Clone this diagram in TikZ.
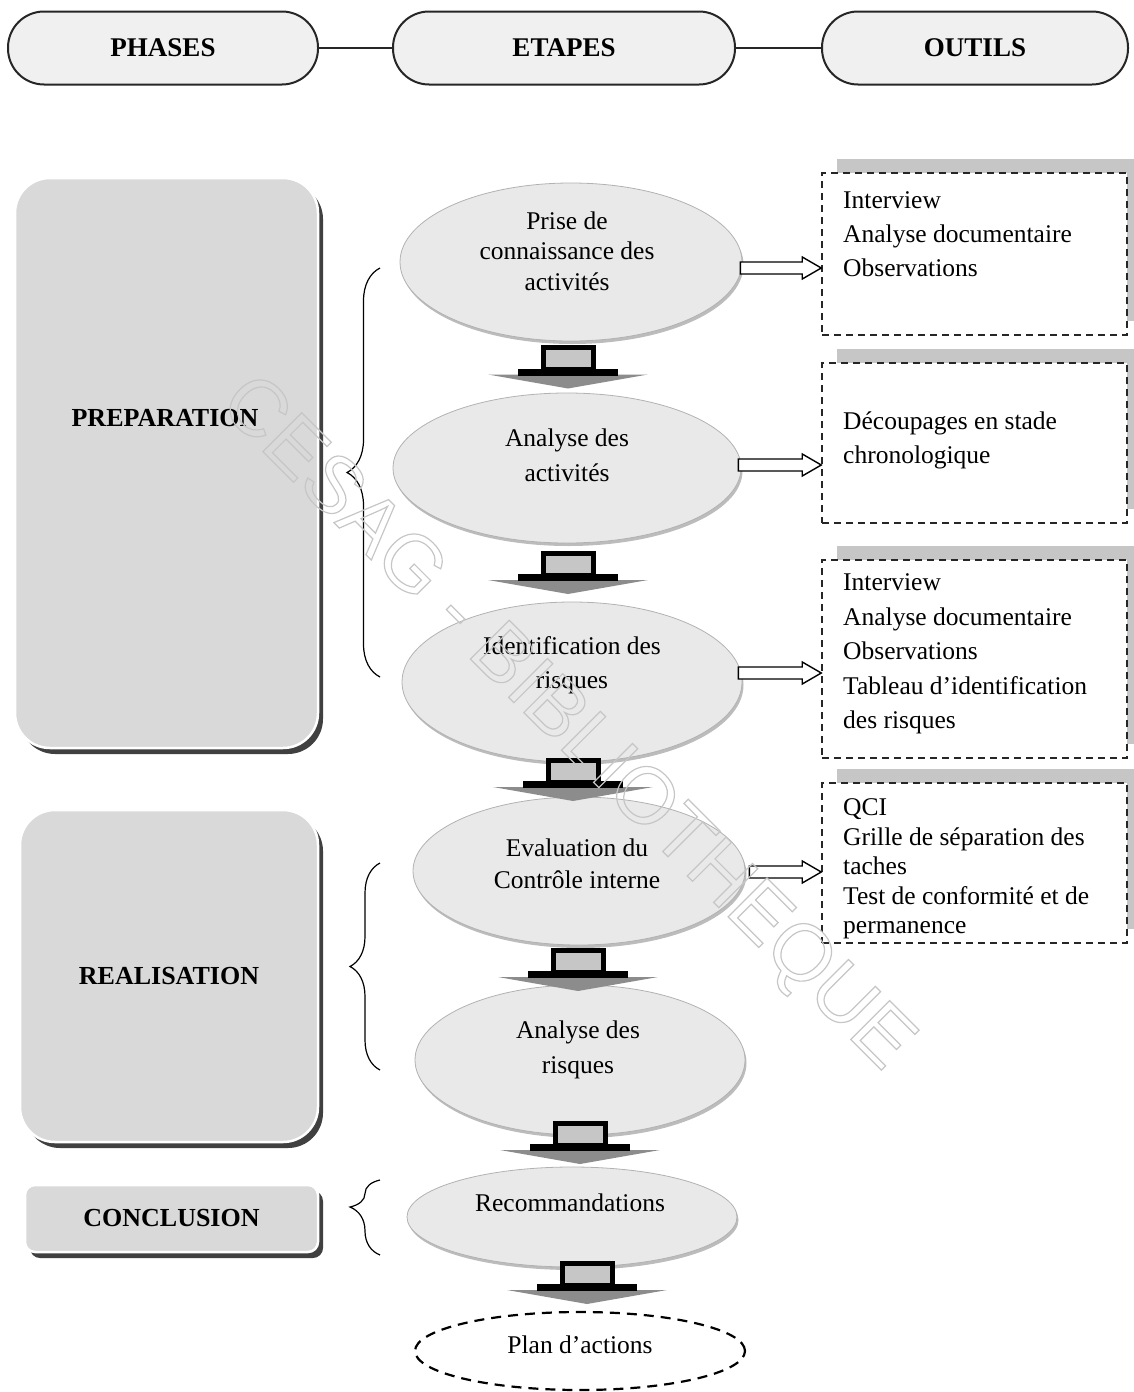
\documentclass[tikz,border=0pt]{standalone}
\usepackage{fontspec}
\setmainfont{Liberation Serif}
\newfontfamily\markfont{Liberation Sans}
\usetikzlibrary{shapes.geometric,shadows,calc,decorations.pathreplacing}

% open block arrow from a point (shifted) to the west side of a tool box
\newcommand\toolarrow[3]{%
  \draw[toolarr] let \p1=($(#1)+(#2)$), \p2=(#3) in
    (\x1,\y1+6pt) -- (\x2-19pt,\y1+6pt) -- (\x2-19pt,\y1+11pt) -- (\x2,\y1)
    -- (\x2-19pt,\y1-11pt) -- (\x2-19pt,\y1-6pt) -- (\x1,\y1-6pt) -- cycle;}

\begin{document}
\begin{tikzpicture}[x=1pt,y=-1pt,
  hdbox/.style={draw=black!85, line width=2pt, fill=gray!12, rounded corners=36pt,
    minimum width=#1, minimum height=73pt, inner sep=0pt,
    font=\fontsize{27}{30}\selectfont\bfseries},
  phasebox/.style={fill=gray!30, draw=white, line width=2.5pt, rounded corners=#1,
    inner sep=0pt, font=\fontsize{26}{30}\selectfont\bfseries,
    drop shadow={shadow xshift=5pt, shadow yshift=-6pt, fill=black!75, opacity=1}},
  phasetxt/.style={inner sep=0pt, font=\fontsize{26}{30}\selectfont\bfseries},
  etape/.style={ellipse, fill=gray!17, draw=gray!60, line width=0.8pt, inner sep=0pt,
    drop shadow={shadow xshift=1.5pt, shadow yshift=-3pt, fill=gray!75, opacity=0.7}},
  etxt/.style={align=center, inner sep=0pt, font=\fontsize{25.5}{33}\selectfont},
  toolbox/.style={draw=black!85, line width=1.5pt, dash pattern=on 7pt off 5pt,
    fill=white, inner sep=0pt, minimum width=305pt,
    general shadow={shadow xshift=15pt, shadow yshift=14pt, fill=gray!45}},
  otxt/.style={align=left, anchor=west, inner sep=0pt,
    font=\fontsize{25.5}{34}\selectfont},
  toolarr/.style={draw=black, line width=1.4pt, fill=white},
  phasebrace/.style={decorate, decoration={brace, amplitude=#1}, line width=1.2pt},
  link/.style={line width=2pt, draw=black!85},
  wmark/.style={rotate=-45, text=gray!45, inner sep=0pt,
    font=\markfont\fontsize{80}{86}\selectfont},
  downblk/.pic={
    \fill[black!45] (-80,8) -- (80,8) -- (0,22) -- cycle;
    \fill[black] (-50,2) rectangle (50,9);
    \draw[black, line width=5pt, fill=gray!45] (-25,-19) rectangle (25,3);
  }
]
\useasboundingbox (0,0) rectangle (1134,1392);

% ---- column headers
\node[hdbox=310pt] (hph) at (163,48) {PHASES};
\node[hdbox=342pt] (het) at (564,48) {ETAPES};
\node[hdbox=306pt] (hou) at (975,48) {OUTILS};
\draw[link] (hph.east) -- (het.west);
\draw[link] (het.east) -- (hou.west);

% ---- phases
\node[phasebox=35pt, minimum width=303pt, minimum height=570pt] (prep) at (166.5,463) {};
\node[phasetxt] (prept) at (165,418) {PREPARATION};
\node[phasebox=35pt, minimum width=298pt, minimum height=332pt] (real) at (169,976) {REALISATION};
\node[phasebox=10pt, minimum width=293pt, minimum height=67pt] (concl) at (171.5,1218.5) {CONCLUSION};

\draw[phasebrace=33pt] (380,677) -- (380,268);
\draw[phasebrace=30pt] (380,1070) -- (380,863);
\draw[phasebrace=30pt, decoration={aspect=0.64}] (380,1255) -- (380,1180);

% ---- steps
\node[etape, minimum width=342pt, minimum height=158pt] (e1) at (571,262) {};
\node[etxt, font=\fontsize{25.5}{30.5}\selectfont] (t1) at (567,251) {Prise de\\connaissance des\\activités};
\node[etape, minimum width=348pt, minimum height=150pt] (e2) at (567,468) {};
\node[etxt, font=\fontsize{25.5}{35}\selectfont] (t2) at (567,455) {Analyse des\\activités};
\node[etape, minimum width=340pt, minimum height=160pt] (e3) at (572,682) {};
\node[etxt, font=\fontsize{25.5}{34}\selectfont] (t3) at (572,665) {Identification des\\risques};
\node[etape, minimum width=332pt, minimum height=148pt] (e4) at (579,871) {};
\node[etxt, font=\fontsize{25.5}{32}\selectfont] (t4) at (577,864) {Evaluation du\\Contrôle interne};
\node[etape, minimum width=330pt, minimum height=150pt] (e5) at (580,1060) {};
\node[etxt, font=\fontsize{25.5}{35}\selectfont] (t5) at (578,1050) {Analyse des\\risques};
\node[etape, minimum width=330pt, minimum height=100pt] (e6) at (572,1217) {};
\node[etxt] (t6) at (570,1203) {Recommandations};
\node[ellipse, draw=black, line width=2.2pt, dash pattern=on 10pt off 7pt,
  minimum width=330pt, minimum height=78pt, inner sep=0pt] (e7) at (580,1351) {};
\node[etxt] (t7) at (580,1345) {Plan d'actions};

% ---- tools
\node[toolbox, minimum height=162pt] (b1) at (974.5,254) {};
\node[otxt] (o1) at (843,234) {Interview\\Analyse documentaire\\Observations};
\node[toolbox, minimum height=160pt] (b2) at (974.5,443) {};
\node[otxt] (o2) at (843,440) {Découpages en stade\\chronologique};
\node[toolbox, minimum height=198pt] (b3) at (974.5,659) {};
\node[otxt, font=\fontsize{25.5}{34.5}\selectfont] (o3) at (843,654) {Interview\\Analyse documentaire\\Observations\\Tableau d'identification\\des risques};
\node[toolbox, minimum height=160pt] (b4) at (974.5,863) {};
\node[otxt, font=\fontsize{25.5}{29.5}\selectfont] (o4) at (843,869) {QCI\\Grille de séparation des\\taches\\Test de conformité et de\\permanence};

\toolarrow{e1.east}{-2,6}{b1.west}
\toolarrow{e2.east}{-3,-3}{b2.west}
\toolarrow{e3.east}{-4,-9}{b3.west}
\toolarrow{e4.east}{4,1}{b4.west}

% ---- block arrows between steps
\pic at (568,366.5) {downblk};
\pic at (568,572) {downblk};
\pic at (573,779) {downblk};
\pic at (578,969) {downblk};
\pic at (580,1142) {downblk};
\pic at (587,1282) {downblk};

% ---- stamp
\node[wmark] (wm) at (565,725) {\special{pdf:literal direct 1 Tr 1.2 w}CESAG - BIBLIOTHEQUE\special{pdf:literal direct 0 Tr}};
\end{tikzpicture}
\end{document}
